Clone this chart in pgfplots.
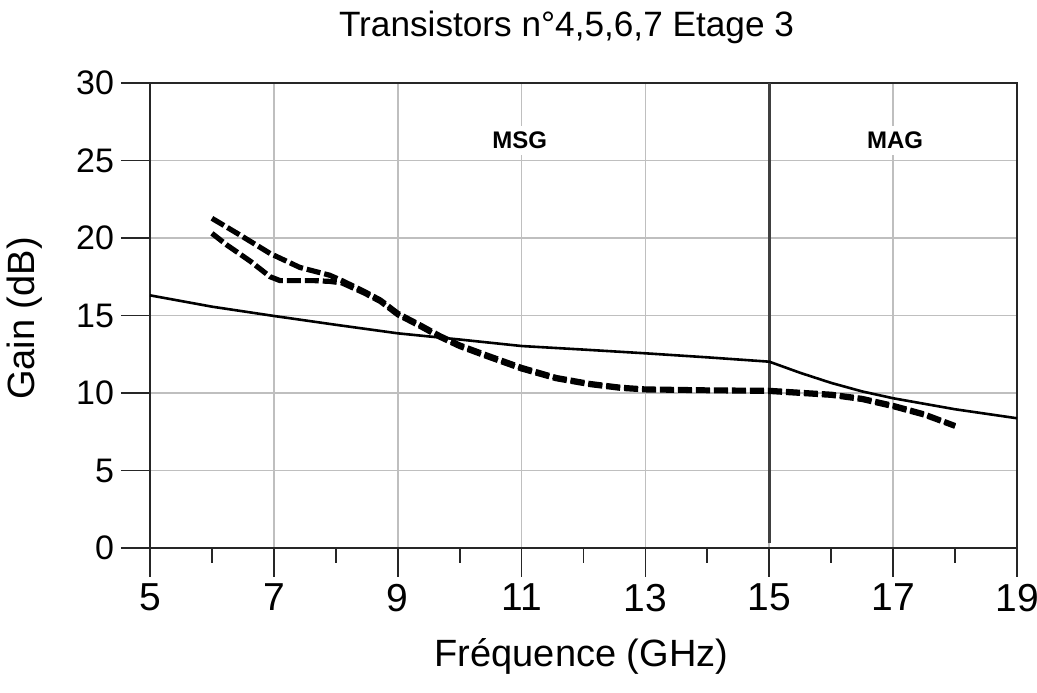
\documentclass[border=0pt]{standalone}
\usepackage{fontspec}
\setmainfont{Liberation Sans}
\usepackage{pgfplots}
\pgfplotsset{compat=1.18}
\pgfplotstableread{
x y
5 16.3
6 15.57
7 14.97
8 14.4
9 13.85
10 13.45
11 13.03
12 12.8
13 12.56
14 12.3
15 12.02
15.5 11.3
16 10.65
16.5 10.1
17 9.66
18 8.95
19 8.37
}\solid
\pgfplotstableread{
x y
6 21.27
6.45 20.2
6.94 19.0
7.42 18.1
7.9 17.6
8.1 17.25
8.46 16.55
8.72 16.0
9.0 15.15
9.36 14.4
9.68 13.7
10.0 13.1
10.44 12.45
11.0 11.65
11.56 11.0
12.09 10.62
12.6 10.37
13.0 10.26
14.0 10.2
15.0 10.17
16.0 9.92
16.5 9.65
17.0 9.2
17.5 8.65
18.0 7.9
}\dashA
\pgfplotstableread{
x y
6 20.3
6.24 19.55
6.62 18.5
6.94 17.5
7.1 17.25
7.65 17.25
7.9 17.2
8.1 17.1
8.46 16.45
8.72 15.9
9.0 15.05
9.36 14.3
9.68 13.6
10.0 13.0
10.44 12.35
11.0 11.55
11.56 10.92
12.09 10.55
12.6 10.3
13.0 10.2
14.0 10.15
15.0 10.1
16.0 9.85
16.5 9.58
17.0 9.12
17.5 8.58
18.0 7.85
}\dashB
\begin{document}
\begin{tikzpicture}
\begin{axis}[name=ax, at={(0,0)}, anchor=south west,
  scale only axis, width=433.5pt, height=232.5pt,
  xmin=5, xmax=19, ymin=0, ymax=30,
  xtick={5,7,...,19}, minor xtick={6,8,...,18}, ytick={0,5,...,30},
  tick align=outside, xtick pos=left, ytick pos=left,
  major tick length=14.5pt, minor tick length=7.5pt,
  xmajorgrids, ymajorgrids,
  grid style={draw=black!25, line width=0.9pt},
  axis line style={draw=black!85, line width=1pt},
  tick style={draw=black!85, line width=0.9pt},
  /pgf/number format/assume math mode=true,
  xticklabel style={font=\fontsize{19.5}{22}\selectfont},
  yticklabel style={font=\fontsize{17}{20}\selectfont},
]
\addplot[draw=black!75, line width=1.6pt] coordinates {(15,0.3) (15,30)};
\addplot[black, line width=1.3pt] table {\solid};
\addplot[black, line width=2.6pt, dash pattern=on 7pt off 2pt] table {\dashA};
\addplot[black, line width=2.6pt, dash pattern=on 7pt off 2pt] table {\dashB};
\node[fill=white, inner sep=3pt, font=\fontsize{12}{14}\selectfont\bfseries] at (axis cs:10.97,26.3) {MSG};
\node[fill=white, inner sep=3pt, font=\fontsize{12}{14}\selectfont\bfseries] at (axis cs:17.03,26.3) {MAG};
\end{axis}
\node[anchor=base, font=\fontsize{17.6}{20}\selectfont] at ([xshift=-8.5pt,yshift=23pt]ax.north) {Transistors n°4,5,6,7 Etage 3};
\node[anchor=base, font=\fontsize{19}{22}\selectfont] at ([xshift=-1pt,yshift=-59.5pt]ax.south) {Fréquence (GHz)};
\node[anchor=base, rotate=90, font=\fontsize{19}{22}\selectfont] at ([xshift=-57.5pt,yshift=-1.5pt]ax.west) {Gain (dB)};
\pgfresetboundingbox
\path ([shift={(-75pt,-72.5pt)}]ax.south west) rectangle ([shift={(10pt,41.5pt)}]ax.north east);
\end{tikzpicture}
\end{document}
